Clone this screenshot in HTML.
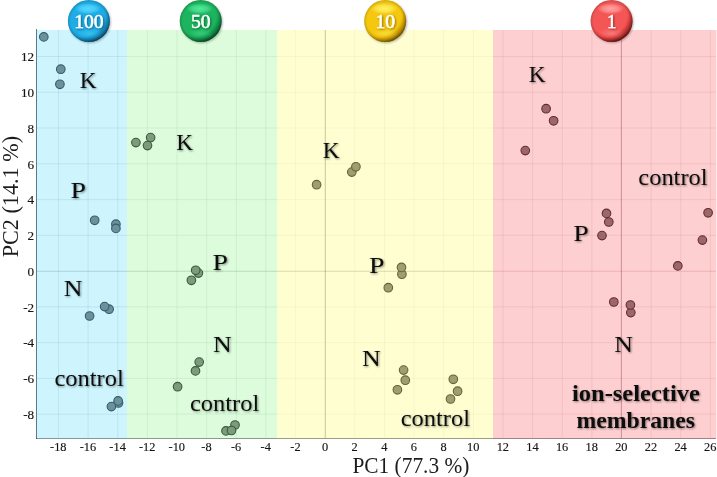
<!DOCTYPE html><html><head><meta charset="utf-8"><style>html,body{margin:0;padding:0;background:#fff;}svg{display:block;}.t{font-family:"Liberation Serif",serif;}.lab{font-family:"Liberation Serif",serif;font-size:24px;fill:#111;}.tick{font-family:"Liberation Serif",serif;font-size:12px;fill:#151515;stroke:#151515;stroke-width:0.15px;}</style></head><body>
<svg width="717" height="477" viewBox="0 0 717 477">
<defs>
<filter id="ts" x="-20%" y="-20%" width="140%" height="140%"><feGaussianBlur in="SourceAlpha" stdDeviation="1"/><feOffset dx="1" dy="1" result="b"/><feComponentTransfer><feFuncA type="linear" slope="0.45"/></feComponentTransfer><feMerge><feMergeNode/><feMergeNode in="SourceGraphic"/></feMerge></filter>
<filter id="bs" x="-30%" y="-30%" width="160%" height="160%"><feGaussianBlur in="SourceAlpha" stdDeviation="1.2"/><feOffset dx="1" dy="1.5" result="b"/><feComponentTransfer><feFuncA type="linear" slope="0.35"/></feComponentTransfer><feMerge><feMergeNode/><feMergeNode in="SourceGraphic"/></feMerge></filter>
<radialGradient id="g0" cx="0.42" cy="0.38" r="0.68"><stop offset="0" stop-color="#1eace5"/><stop offset="0.64" stop-color="#1eace5"/><stop offset="0.84" stop-color="#1594cc"/><stop offset="0.97" stop-color="#0a6496"/></radialGradient>
<radialGradient id="hl0" cx="0.5" cy="0.5" r="0.5"><stop offset="0" stop-color="#55d8ff" stop-opacity="1"/><stop offset="0.55" stop-color="#55d8ff" stop-opacity="0.7"/><stop offset="1" stop-color="#55d8ff" stop-opacity="0"/></radialGradient>
<radialGradient id="lo0" cx="0.5" cy="0.5" r="0.5"><stop offset="0" stop-color="#55d8ff" stop-opacity="0.45"/><stop offset="1" stop-color="#55d8ff" stop-opacity="0"/></radialGradient>
<radialGradient id="g1" cx="0.42" cy="0.38" r="0.68"><stop offset="0" stop-color="#1cb45e"/><stop offset="0.64" stop-color="#1cb45e"/><stop offset="0.84" stop-color="#12984c"/><stop offset="0.97" stop-color="#0a6634"/></radialGradient>
<radialGradient id="hl1" cx="0.5" cy="0.5" r="0.5"><stop offset="0" stop-color="#50e89a" stop-opacity="1"/><stop offset="0.55" stop-color="#50e89a" stop-opacity="0.7"/><stop offset="1" stop-color="#50e89a" stop-opacity="0"/></radialGradient>
<radialGradient id="lo1" cx="0.5" cy="0.5" r="0.5"><stop offset="0" stop-color="#50e89a" stop-opacity="0.45"/><stop offset="1" stop-color="#50e89a" stop-opacity="0"/></radialGradient>
<radialGradient id="g2" cx="0.42" cy="0.38" r="0.68"><stop offset="0" stop-color="#f5c80f"/><stop offset="0.64" stop-color="#f5c80f"/><stop offset="0.84" stop-color="#e0aa00"/><stop offset="0.97" stop-color="#a87800"/></radialGradient>
<radialGradient id="hl2" cx="0.5" cy="0.5" r="0.5"><stop offset="0" stop-color="#fff060" stop-opacity="1"/><stop offset="0.55" stop-color="#fff060" stop-opacity="0.7"/><stop offset="1" stop-color="#fff060" stop-opacity="0"/></radialGradient>
<radialGradient id="lo2" cx="0.5" cy="0.5" r="0.5"><stop offset="0" stop-color="#fff060" stop-opacity="0.45"/><stop offset="1" stop-color="#fff060" stop-opacity="0"/></radialGradient>
<radialGradient id="g3" cx="0.42" cy="0.38" r="0.68"><stop offset="0" stop-color="#f45656"/><stop offset="0.64" stop-color="#f45656"/><stop offset="0.84" stop-color="#d83636"/><stop offset="0.97" stop-color="#861414"/></radialGradient>
<radialGradient id="hl3" cx="0.5" cy="0.5" r="0.5"><stop offset="0" stop-color="#ffa0a0" stop-opacity="1"/><stop offset="0.55" stop-color="#ffa0a0" stop-opacity="0.7"/><stop offset="1" stop-color="#ffa0a0" stop-opacity="0"/></radialGradient>
<radialGradient id="lo3" cx="0.5" cy="0.5" r="0.5"><stop offset="0" stop-color="#ffa0a0" stop-opacity="0.45"/><stop offset="1" stop-color="#ffa0a0" stop-opacity="0"/></radialGradient>
<radialGradient id="rim" cx="0.5" cy="0.5" r="0.5"><stop offset="0.86" stop-color="#000" stop-opacity="0"/><stop offset="1" stop-color="#000" stop-opacity="0.16"/></radialGradient><radialGradient id="rim2" cx="0.36" cy="0.32" r="0.76"><stop offset="0.72" stop-color="#000" stop-opacity="0"/><stop offset="0.96" stop-color="#000" stop-opacity="0.36"/></radialGradient>
<filter id="blur1" x="-20%" y="-20%" width="140%" height="140%"><feGaussianBlur stdDeviation="1"/></filter>
</defs>
<rect x="36" y="30" width="91" height="409" fill="#cef5fe"/>
<rect x="127" y="30" width="150" height="409" fill="#dcfcdc"/>
<rect x="277" y="30" width="216" height="409" fill="#fefed1"/>
<rect x="493" y="30" width="223" height="409" fill="#fecfd0"/>
<rect x="716" y="30" width="1" height="408" fill="#fbe9e7"/>
<clipPath id="c0"><rect x="37" y="30" width="90" height="408"/></clipPath>
<g clip-path="url(#c0)" stroke="rgba(60,120,140,0.13)" stroke-width="1">
<line x1="58.5" y1="30" x2="58.5" y2="438"/>
<line x1="88.1" y1="30" x2="88.1" y2="438"/>
<line x1="117.8" y1="30" x2="117.8" y2="438"/>
<line x1="147.4" y1="30" x2="147.4" y2="438"/>
<line x1="177.0" y1="30" x2="177.0" y2="438"/>
<line x1="206.7" y1="30" x2="206.7" y2="438"/>
<line x1="236.3" y1="30" x2="236.3" y2="438"/>
<line x1="265.9" y1="30" x2="265.9" y2="438"/>
<line x1="295.6" y1="30" x2="295.6" y2="438"/>
<line x1="354.8" y1="30" x2="354.8" y2="438"/>
<line x1="384.5" y1="30" x2="384.5" y2="438"/>
<line x1="414.1" y1="30" x2="414.1" y2="438"/>
<line x1="443.7" y1="30" x2="443.7" y2="438"/>
<line x1="473.4" y1="30" x2="473.4" y2="438"/>
<line x1="503.0" y1="30" x2="503.0" y2="438"/>
<line x1="532.6" y1="30" x2="532.6" y2="438"/>
<line x1="562.3" y1="30" x2="562.3" y2="438"/>
<line x1="591.9" y1="30" x2="591.9" y2="438"/>
<line x1="621.5" y1="30" x2="621.5" y2="438"/>
<line x1="651.2" y1="30" x2="651.2" y2="438"/>
<line x1="680.8" y1="30" x2="680.8" y2="438"/>
<line x1="710.4" y1="30" x2="710.4" y2="438"/>
<line x1="37" y1="414.2" x2="127" y2="414.2"/>
<line x1="37" y1="378.4" x2="127" y2="378.4"/>
<line x1="37" y1="342.6" x2="127" y2="342.6"/>
<line x1="37" y1="306.9" x2="127" y2="306.9"/>
<line x1="37" y1="235.3" x2="127" y2="235.3"/>
<line x1="37" y1="199.6" x2="127" y2="199.6"/>
<line x1="37" y1="163.8" x2="127" y2="163.8"/>
<line x1="37" y1="128.0" x2="127" y2="128.0"/>
<line x1="37" y1="92.2" x2="127" y2="92.2"/>
<line x1="37" y1="56.5" x2="127" y2="56.5"/>
</g>
<clipPath id="c1"><rect x="127" y="30" width="150" height="408"/></clipPath>
<g clip-path="url(#c1)" stroke="rgba(60,120,60,0.09)" stroke-width="1">
<line x1="58.5" y1="30" x2="58.5" y2="438"/>
<line x1="88.1" y1="30" x2="88.1" y2="438"/>
<line x1="117.8" y1="30" x2="117.8" y2="438"/>
<line x1="147.4" y1="30" x2="147.4" y2="438"/>
<line x1="177.0" y1="30" x2="177.0" y2="438"/>
<line x1="206.7" y1="30" x2="206.7" y2="438"/>
<line x1="236.3" y1="30" x2="236.3" y2="438"/>
<line x1="265.9" y1="30" x2="265.9" y2="438"/>
<line x1="295.6" y1="30" x2="295.6" y2="438"/>
<line x1="354.8" y1="30" x2="354.8" y2="438"/>
<line x1="384.5" y1="30" x2="384.5" y2="438"/>
<line x1="414.1" y1="30" x2="414.1" y2="438"/>
<line x1="443.7" y1="30" x2="443.7" y2="438"/>
<line x1="473.4" y1="30" x2="473.4" y2="438"/>
<line x1="503.0" y1="30" x2="503.0" y2="438"/>
<line x1="532.6" y1="30" x2="532.6" y2="438"/>
<line x1="562.3" y1="30" x2="562.3" y2="438"/>
<line x1="591.9" y1="30" x2="591.9" y2="438"/>
<line x1="621.5" y1="30" x2="621.5" y2="438"/>
<line x1="651.2" y1="30" x2="651.2" y2="438"/>
<line x1="680.8" y1="30" x2="680.8" y2="438"/>
<line x1="710.4" y1="30" x2="710.4" y2="438"/>
<line x1="127" y1="414.2" x2="277" y2="414.2"/>
<line x1="127" y1="378.4" x2="277" y2="378.4"/>
<line x1="127" y1="342.6" x2="277" y2="342.6"/>
<line x1="127" y1="306.9" x2="277" y2="306.9"/>
<line x1="127" y1="235.3" x2="277" y2="235.3"/>
<line x1="127" y1="199.6" x2="277" y2="199.6"/>
<line x1="127" y1="163.8" x2="277" y2="163.8"/>
<line x1="127" y1="128.0" x2="277" y2="128.0"/>
<line x1="127" y1="92.2" x2="277" y2="92.2"/>
<line x1="127" y1="56.5" x2="277" y2="56.5"/>
</g>
<clipPath id="c2"><rect x="277" y="30" width="216" height="408"/></clipPath>
<g clip-path="url(#c2)" stroke="rgba(120,120,40,0.06)" stroke-width="1">
<line x1="58.5" y1="30" x2="58.5" y2="438"/>
<line x1="88.1" y1="30" x2="88.1" y2="438"/>
<line x1="117.8" y1="30" x2="117.8" y2="438"/>
<line x1="147.4" y1="30" x2="147.4" y2="438"/>
<line x1="177.0" y1="30" x2="177.0" y2="438"/>
<line x1="206.7" y1="30" x2="206.7" y2="438"/>
<line x1="236.3" y1="30" x2="236.3" y2="438"/>
<line x1="265.9" y1="30" x2="265.9" y2="438"/>
<line x1="295.6" y1="30" x2="295.6" y2="438"/>
<line x1="354.8" y1="30" x2="354.8" y2="438"/>
<line x1="384.5" y1="30" x2="384.5" y2="438"/>
<line x1="414.1" y1="30" x2="414.1" y2="438"/>
<line x1="443.7" y1="30" x2="443.7" y2="438"/>
<line x1="473.4" y1="30" x2="473.4" y2="438"/>
<line x1="503.0" y1="30" x2="503.0" y2="438"/>
<line x1="532.6" y1="30" x2="532.6" y2="438"/>
<line x1="562.3" y1="30" x2="562.3" y2="438"/>
<line x1="591.9" y1="30" x2="591.9" y2="438"/>
<line x1="621.5" y1="30" x2="621.5" y2="438"/>
<line x1="651.2" y1="30" x2="651.2" y2="438"/>
<line x1="680.8" y1="30" x2="680.8" y2="438"/>
<line x1="710.4" y1="30" x2="710.4" y2="438"/>
<line x1="277" y1="414.2" x2="493" y2="414.2"/>
<line x1="277" y1="378.4" x2="493" y2="378.4"/>
<line x1="277" y1="342.6" x2="493" y2="342.6"/>
<line x1="277" y1="306.9" x2="493" y2="306.9"/>
<line x1="277" y1="235.3" x2="493" y2="235.3"/>
<line x1="277" y1="199.6" x2="493" y2="199.6"/>
<line x1="277" y1="163.8" x2="493" y2="163.8"/>
<line x1="277" y1="128.0" x2="493" y2="128.0"/>
<line x1="277" y1="92.2" x2="493" y2="92.2"/>
<line x1="277" y1="56.5" x2="493" y2="56.5"/>
</g>
<clipPath id="c3"><rect x="493" y="30" width="223" height="408"/></clipPath>
<g clip-path="url(#c3)" stroke="rgba(160,60,60,0.1)" stroke-width="1">
<line x1="58.5" y1="30" x2="58.5" y2="438"/>
<line x1="88.1" y1="30" x2="88.1" y2="438"/>
<line x1="117.8" y1="30" x2="117.8" y2="438"/>
<line x1="147.4" y1="30" x2="147.4" y2="438"/>
<line x1="177.0" y1="30" x2="177.0" y2="438"/>
<line x1="206.7" y1="30" x2="206.7" y2="438"/>
<line x1="236.3" y1="30" x2="236.3" y2="438"/>
<line x1="265.9" y1="30" x2="265.9" y2="438"/>
<line x1="295.6" y1="30" x2="295.6" y2="438"/>
<line x1="354.8" y1="30" x2="354.8" y2="438"/>
<line x1="384.5" y1="30" x2="384.5" y2="438"/>
<line x1="414.1" y1="30" x2="414.1" y2="438"/>
<line x1="443.7" y1="30" x2="443.7" y2="438"/>
<line x1="473.4" y1="30" x2="473.4" y2="438"/>
<line x1="503.0" y1="30" x2="503.0" y2="438"/>
<line x1="532.6" y1="30" x2="532.6" y2="438"/>
<line x1="562.3" y1="30" x2="562.3" y2="438"/>
<line x1="591.9" y1="30" x2="591.9" y2="438"/>
<line x1="621.5" y1="30" x2="621.5" y2="438"/>
<line x1="651.2" y1="30" x2="651.2" y2="438"/>
<line x1="680.8" y1="30" x2="680.8" y2="438"/>
<line x1="710.4" y1="30" x2="710.4" y2="438"/>
<line x1="493" y1="414.2" x2="716" y2="414.2"/>
<line x1="493" y1="378.4" x2="716" y2="378.4"/>
<line x1="493" y1="342.6" x2="716" y2="342.6"/>
<line x1="493" y1="306.9" x2="716" y2="306.9"/>
<line x1="493" y1="235.3" x2="716" y2="235.3"/>
<line x1="493" y1="199.6" x2="716" y2="199.6"/>
<line x1="493" y1="163.8" x2="716" y2="163.8"/>
<line x1="493" y1="128.0" x2="716" y2="128.0"/>
<line x1="493" y1="92.2" x2="716" y2="92.2"/>
<line x1="493" y1="56.5" x2="716" y2="56.5"/>
</g>
<line x1="37" y1="271.3" x2="127" y2="271.3" stroke="rgba(20,70,100,0.2)" stroke-width="1.1"/>
<line x1="127" y1="271.3" x2="277" y2="271.3" stroke="rgba(30,80,30,0.18)" stroke-width="1.1"/>
<line x1="277" y1="271.3" x2="493" y2="271.3" stroke="rgba(70,70,20,0.2)" stroke-width="1.1"/>
<line x1="493" y1="271.3" x2="716" y2="271.3" stroke="rgba(140,30,30,0.16)" stroke-width="1.1"/>
<line x1="325.3" y1="30" x2="325.3" y2="438" stroke="rgba(80,95,20,0.3)" stroke-width="1.1"/>
<line x1="621.4" y1="30" x2="621.4" y2="438" stroke="rgba(110,20,40,0.25)" stroke-width="1.1"/>
<line x1="36.5" y1="29" x2="36.5" y2="439" stroke="rgba(20,50,60,0.62)" stroke-width="1"/>
<line x1="36" y1="438.5" x2="716" y2="438.5" stroke="rgba(40,40,40,0.45)" stroke-width="1"/>
<circle cx="43.8" cy="36.9" r="4.3" fill="#6a919d" stroke="#385c68" stroke-width="1.1"/>
<circle cx="60.8" cy="69.2" r="4.3" fill="#6a919d" stroke="#385c68" stroke-width="1.1"/>
<circle cx="59.9" cy="84.3" r="4.3" fill="#6a919d" stroke="#385c68" stroke-width="1.1"/>
<circle cx="94.7" cy="220.3" r="4.3" fill="#6a919d" stroke="#385c68" stroke-width="1.1"/>
<circle cx="115.9" cy="224.2" r="4.3" fill="#6a919d" stroke="#385c68" stroke-width="1.1"/>
<circle cx="115.9" cy="228.4" r="4.3" fill="#6a919d" stroke="#385c68" stroke-width="1.1"/>
<circle cx="89.6" cy="316" r="4.3" fill="#6a919d" stroke="#385c68" stroke-width="1.1"/>
<circle cx="109.1" cy="309.2" r="4.3" fill="#6a919d" stroke="#385c68" stroke-width="1.1"/>
<circle cx="104.6" cy="306.6" r="4.3" fill="#6a919d" stroke="#385c68" stroke-width="1.1"/>
<circle cx="118.5" cy="403" r="4.3" fill="#6a919d" stroke="#385c68" stroke-width="1.1"/>
<circle cx="118.1" cy="400.9" r="4.3" fill="#6a919d" stroke="#385c68" stroke-width="1.1"/>
<circle cx="111.4" cy="406.6" r="4.3" fill="#6a919d" stroke="#385c68" stroke-width="1.1"/>
<circle cx="135.9" cy="142.6" r="4.3" fill="#7a9c7b" stroke="#395a3c" stroke-width="1.1"/>
<circle cx="150.6" cy="137.6" r="4.3" fill="#7a9c7b" stroke="#395a3c" stroke-width="1.1"/>
<circle cx="147.5" cy="145.6" r="4.3" fill="#7a9c7b" stroke="#395a3c" stroke-width="1.1"/>
<circle cx="198.4" cy="273.1" r="4.3" fill="#7a9c7b" stroke="#395a3c" stroke-width="1.1"/>
<circle cx="195.7" cy="270.3" r="4.3" fill="#7a9c7b" stroke="#395a3c" stroke-width="1.1"/>
<circle cx="191.4" cy="280.3" r="4.3" fill="#7a9c7b" stroke="#395a3c" stroke-width="1.1"/>
<circle cx="177.6" cy="386.7" r="4.3" fill="#7a9c7b" stroke="#395a3c" stroke-width="1.1"/>
<circle cx="199.2" cy="362.1" r="4.3" fill="#7a9c7b" stroke="#395a3c" stroke-width="1.1"/>
<circle cx="195.5" cy="370.9" r="4.3" fill="#7a9c7b" stroke="#395a3c" stroke-width="1.1"/>
<circle cx="226" cy="430.9" r="4.3" fill="#7a9c7b" stroke="#395a3c" stroke-width="1.1"/>
<circle cx="235" cy="425" r="4.3" fill="#7a9c7b" stroke="#395a3c" stroke-width="1.1"/>
<circle cx="231.5" cy="430.5" r="4.3" fill="#7a9c7b" stroke="#395a3c" stroke-width="1.1"/>
<circle cx="316.6" cy="184.7" r="4.3" fill="#9e9e74" stroke="#64642f" stroke-width="1.1"/>
<circle cx="351.8" cy="172.1" r="4.3" fill="#9e9e74" stroke="#64642f" stroke-width="1.1"/>
<circle cx="355.9" cy="166.8" r="4.3" fill="#9e9e74" stroke="#64642f" stroke-width="1.1"/>
<circle cx="401.9" cy="274.2" r="4.3" fill="#9e9e74" stroke="#64642f" stroke-width="1.1"/>
<circle cx="401.5" cy="267.4" r="4.3" fill="#9e9e74" stroke="#64642f" stroke-width="1.1"/>
<circle cx="388.3" cy="287.7" r="4.3" fill="#9e9e74" stroke="#64642f" stroke-width="1.1"/>
<circle cx="403.6" cy="370.1" r="4.3" fill="#9e9e74" stroke="#64642f" stroke-width="1.1"/>
<circle cx="405.3" cy="380.2" r="4.3" fill="#9e9e74" stroke="#64642f" stroke-width="1.1"/>
<circle cx="397.4" cy="389.8" r="4.3" fill="#9e9e74" stroke="#64642f" stroke-width="1.1"/>
<circle cx="453.3" cy="379.3" r="4.3" fill="#9e9e74" stroke="#64642f" stroke-width="1.1"/>
<circle cx="457.6" cy="391.2" r="4.3" fill="#9e9e74" stroke="#64642f" stroke-width="1.1"/>
<circle cx="450.5" cy="399" r="4.3" fill="#9e9e74" stroke="#64642f" stroke-width="1.1"/>
<circle cx="546.1" cy="108.7" r="4.3" fill="#9e6668" stroke="#5e2e32" stroke-width="1.1"/>
<circle cx="553.6" cy="120.8" r="4.3" fill="#9e6668" stroke="#5e2e32" stroke-width="1.1"/>
<circle cx="525.3" cy="150.6" r="4.3" fill="#9e6668" stroke="#5e2e32" stroke-width="1.1"/>
<circle cx="606.5" cy="213.4" r="4.3" fill="#9e6668" stroke="#5e2e32" stroke-width="1.1"/>
<circle cx="608.8" cy="222" r="4.3" fill="#9e6668" stroke="#5e2e32" stroke-width="1.1"/>
<circle cx="602" cy="235.6" r="4.3" fill="#9e6668" stroke="#5e2e32" stroke-width="1.1"/>
<circle cx="613.8" cy="302" r="4.3" fill="#9e6668" stroke="#5e2e32" stroke-width="1.1"/>
<circle cx="630.8" cy="312.6" r="4.3" fill="#9e6668" stroke="#5e2e32" stroke-width="1.1"/>
<circle cx="630.4" cy="305" r="4.3" fill="#9e6668" stroke="#5e2e32" stroke-width="1.1"/>
<circle cx="708.1" cy="212.8" r="4.3" fill="#9e6668" stroke="#5e2e32" stroke-width="1.1"/>
<circle cx="702.4" cy="240.1" r="4.3" fill="#9e6668" stroke="#5e2e32" stroke-width="1.1"/>
<circle cx="677.8" cy="265.9" r="4.3" fill="#9e6668" stroke="#5e2e32" stroke-width="1.1"/>
<text class="lab" transform="translate(79.74 87.7) scale(0.97 1)" filter="url(#ts)">K</text>
<text class="lab" transform="translate(70.61 197.8) scale(1.16 1)" filter="url(#ts)">P</text>
<text class="lab" transform="translate(63.82 295.6) scale(1.08 1)" filter="url(#ts)">N</text>
<text class="lab" transform="translate(54.38 386.4) scale(1.02 1)" filter="url(#ts)">control</text>
<text class="lab" transform="translate(176.34 149.8) scale(0.97 1)" filter="url(#ts)">K</text>
<text class="lab" transform="translate(212.41 269.8) scale(1.16 1)" filter="url(#ts)">P</text>
<text class="lab" transform="translate(213.02 352.3) scale(1.08 1)" filter="url(#ts)">N</text>
<text class="lab" transform="translate(189.88 411.2) scale(1.02 1)" filter="url(#ts)">control</text>
<text class="lab" transform="translate(322.64 157.6) scale(0.97 1)" filter="url(#ts)">K</text>
<text class="lab" transform="translate(368.91 273.0) scale(1.16 1)" filter="url(#ts)">P</text>
<text class="lab" transform="translate(361.92 366.4) scale(1.08 1)" filter="url(#ts)">N</text>
<text class="lab" transform="translate(400.68 425.7) scale(1.02 1)" filter="url(#ts)">control</text>
<text class="lab" transform="translate(528.64 82.0) scale(0.97 1)" filter="url(#ts)">K</text>
<text class="lab" transform="translate(573.31 241.4) scale(1.16 1)" filter="url(#ts)">P</text>
<text class="lab" transform="translate(614.32 352.3) scale(1.08 1)" filter="url(#ts)">N</text>
<text class="lab" transform="translate(638.28 184.9) scale(1.02 1)" filter="url(#ts)">control</text>
<text class="lab" transform="translate(635.9 400.9) scale(1.043 1)" text-anchor="middle" style="font-weight:bold;font-size:23.5px" filter="url(#ts)">ion-selective</text>
<text class="lab" transform="translate(635.7 427.6) scale(1.01 1)" text-anchor="middle" style="font-weight:bold;font-size:23.5px" filter="url(#ts)">membranes</text>
<text class="tick" transform="translate(58.3 450.9) scale(1.03 1)" text-anchor="middle">-18</text>
<text class="tick" transform="translate(87.9 450.9) scale(1.03 1)" text-anchor="middle">-16</text>
<text class="tick" transform="translate(117.6 450.9) scale(1.03 1)" text-anchor="middle">-14</text>
<text class="tick" transform="translate(147.2 450.9) scale(1.03 1)" text-anchor="middle">-12</text>
<text class="tick" transform="translate(176.8 450.9) scale(1.03 1)" text-anchor="middle">-10</text>
<text class="tick" transform="translate(206.5 450.9) scale(1.03 1)" text-anchor="middle">-8</text>
<text class="tick" transform="translate(236.1 450.9) scale(1.03 1)" text-anchor="middle">-6</text>
<text class="tick" transform="translate(265.7 450.9) scale(1.03 1)" text-anchor="middle">-4</text>
<text class="tick" transform="translate(295.4 450.9) scale(1.03 1)" text-anchor="middle">-2</text>
<text class="tick" transform="translate(325.0 450.9) scale(1.03 1)" text-anchor="middle">0</text>
<text class="tick" transform="translate(354.6 450.9) scale(1.03 1)" text-anchor="middle">2</text>
<text class="tick" transform="translate(384.3 450.9) scale(1.03 1)" text-anchor="middle">4</text>
<text class="tick" transform="translate(413.9 450.9) scale(1.03 1)" text-anchor="middle">6</text>
<text class="tick" transform="translate(443.5 450.9) scale(1.03 1)" text-anchor="middle">8</text>
<text class="tick" transform="translate(473.2 450.9) scale(1.03 1)" text-anchor="middle">10</text>
<text class="tick" transform="translate(502.8 450.9) scale(1.03 1)" text-anchor="middle">12</text>
<text class="tick" transform="translate(532.4 450.9) scale(1.03 1)" text-anchor="middle">14</text>
<text class="tick" transform="translate(562.1 450.9) scale(1.03 1)" text-anchor="middle">16</text>
<text class="tick" transform="translate(591.7 450.9) scale(1.03 1)" text-anchor="middle">18</text>
<text class="tick" transform="translate(621.3 450.9) scale(1.03 1)" text-anchor="middle">20</text>
<text class="tick" transform="translate(651.0 450.9) scale(1.03 1)" text-anchor="middle">22</text>
<text class="tick" transform="translate(680.6 450.9) scale(1.03 1)" text-anchor="middle">24</text>
<text class="tick" transform="translate(710.2 450.9) scale(1.03 1)" text-anchor="middle">26</text>
<text class="tick" transform="translate(34.2 419.0) scale(1.1 1)" text-anchor="end">-8</text>
<text class="tick" transform="translate(34.2 383.2) scale(1.1 1)" text-anchor="end">-6</text>
<text class="tick" transform="translate(34.2 347.4) scale(1.1 1)" text-anchor="end">-4</text>
<text class="tick" transform="translate(34.2 311.7) scale(1.1 1)" text-anchor="end">-2</text>
<text class="tick" transform="translate(34.2 275.9) scale(1.1 1)" text-anchor="end">0</text>
<text class="tick" transform="translate(34.2 240.1) scale(1.1 1)" text-anchor="end">2</text>
<text class="tick" transform="translate(34.2 204.4) scale(1.1 1)" text-anchor="end">4</text>
<text class="tick" transform="translate(34.2 168.6) scale(1.1 1)" text-anchor="end">6</text>
<text class="tick" transform="translate(34.2 132.8) scale(1.1 1)" text-anchor="end">8</text>
<text class="tick" transform="translate(34.2 97.0) scale(1.1 1)" text-anchor="end">10</text>
<text class="tick" transform="translate(34.2 61.3) scale(1.1 1)" text-anchor="end">12</text>
<text class="t" font-size="22.5" fill="#1c1c1c" text-anchor="middle" transform="translate(410.9 472.9) scale(0.95 1)">PC1 (77.3 %)</text>
<text class="t" font-size="22.5" fill="#1c1c1c" text-anchor="middle" transform="translate(17.7 196.6) rotate(-90) scale(0.985 1)">PC2 (14.1 %)</text>
<circle cx="89.9" cy="22.2" r="21.0" fill="#000" opacity="0.28" filter="url(#blur1)"/>
<circle cx="88.9" cy="21.0" r="21.0" fill="url(#g0)"/>
<circle cx="88.9" cy="21.0" r="21.0" fill="url(#rim)"/>
<circle cx="88.9" cy="21.0" r="21.0" fill="url(#rim2)"/>
<ellipse cx="87.9" cy="8.7" rx="13.5" ry="5.5" fill="url(#hl0)"/>
<ellipse cx="88.9" cy="33.5" rx="13" ry="5.5" fill="url(#lo0)"/>
<text class="t" transform="translate(88.9 28.2) scale(1.07 1)" font-size="18.3" fill="#fff" stroke="#fff" stroke-width="0.45" text-anchor="middle" filter="url(#ts)">100</text>
<circle cx="201.7" cy="22.2" r="21.0" fill="#000" opacity="0.28" filter="url(#blur1)"/>
<circle cx="200.7" cy="21.0" r="21.0" fill="url(#g1)"/>
<circle cx="200.7" cy="21.0" r="21.0" fill="url(#rim)"/>
<circle cx="200.7" cy="21.0" r="21.0" fill="url(#rim2)"/>
<ellipse cx="199.7" cy="8.7" rx="13.5" ry="5.5" fill="url(#hl1)"/>
<ellipse cx="200.7" cy="33.5" rx="13" ry="5.5" fill="url(#lo1)"/>
<text class="t" transform="translate(200.7 28.2) scale(1.07 1)" font-size="18.3" fill="#fff" stroke="#fff" stroke-width="0.45" text-anchor="middle" filter="url(#ts)">50</text>
<circle cx="386.2" cy="22.2" r="21.0" fill="#000" opacity="0.28" filter="url(#blur1)"/>
<circle cx="385.2" cy="21.0" r="21.0" fill="url(#g2)"/>
<circle cx="385.2" cy="21.0" r="21.0" fill="url(#rim)"/>
<circle cx="385.2" cy="21.0" r="21.0" fill="url(#rim2)"/>
<ellipse cx="384.2" cy="8.7" rx="13.5" ry="5.5" fill="url(#hl2)"/>
<ellipse cx="385.2" cy="33.5" rx="13" ry="5.5" fill="url(#lo2)"/>
<text class="t" transform="translate(385.2 28.2) scale(1.07 1)" font-size="18.3" fill="#fff" stroke="#fff" stroke-width="0.45" text-anchor="middle" filter="url(#ts)">10</text>
<circle cx="612.6" cy="22.2" r="21.0" fill="#000" opacity="0.28" filter="url(#blur1)"/>
<circle cx="611.6" cy="21.0" r="21.0" fill="url(#g3)"/>
<circle cx="611.6" cy="21.0" r="21.0" fill="url(#rim)"/>
<circle cx="611.6" cy="21.0" r="21.0" fill="url(#rim2)"/>
<ellipse cx="610.6" cy="8.7" rx="13.5" ry="5.5" fill="url(#hl3)"/>
<ellipse cx="611.6" cy="33.5" rx="13" ry="5.5" fill="url(#lo3)"/>
<text class="t" transform="translate(611.6 28.2) scale(1.07 1)" font-size="18.3" fill="#fff" stroke="#fff" stroke-width="0.45" text-anchor="middle" filter="url(#ts)">1</text>
</svg></body></html>
